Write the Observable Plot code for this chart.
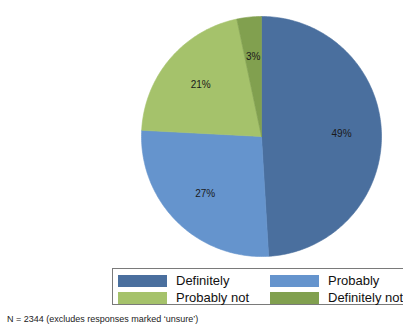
<!DOCTYPE html>
<html>
<head>
<meta charset="utf-8">
<script src="https://cdn.jsdelivr.net/npm/d3@7"></script>
<script src="https://cdn.jsdelivr.net/npm/@observablehq/plot@0.6"></script>
<style>
  html, body { margin: 0; padding: 0; background: #fff; }
  body { width: 403px; height: 326px; position: relative; overflow: hidden; font-family: "Liberation Sans", Arial, sans-serif; }
  #chart { position: absolute; left: 0; top: 0; }
  #legend { position: absolute; left: 112px; top: 268px; width: 295px; height: 37px; border: 1px solid #7a7a7a; box-sizing: border-box; }
  .item { position: absolute; display: flex; align-items: center; font-size: 13px; color: #111; white-space: nowrap; }
  .sw { width: 49px; height: 12px; margin-right: 9px; }
  #caption { position: absolute; left: 7px; top: 314px; font-size: 9px; color: #222; white-space: nowrap; }
</style>
</head>
<body>
<div id="chart"></div>
<div id="legend"></div>
<div id="caption"></div>
<script>
const categories = ["Definitely", "Probably", "Probably not", "Definitely not"];
const shares = [49.1, 26.8, 20.9, 3.3];
const colors = ["#4a6f9e", "#6594cd", "#a5c26b", "#81a04f"];
const caption = "N = 2344 (excludes responses marked ‘unsure’)";

const total = d3.sum(shares);
const pts = [];
const labels = [];
let cum = 0;
categories.forEach((cat, i) => {
  const a0 = cum / total * 2 * Math.PI;
  cum += shares[i];
  const a1 = cum / total * 2 * Math.PI;
  const n = Math.max(2, Math.ceil((a1 - a0) / (Math.PI / 180)));
  pts.push({cat, x: 0, y: 0});
  for (let k = 0; k <= n; k++) {
    const a = a0 + (a1 - a0) * k / n;
    pts.push({cat, x: Math.sin(a), y: Math.cos(a)});
  }
  pts.push({cat, x: 0, y: 0});
  const m = (a0 + a1) / 2;
  labels.push({cat, x: 0.667 * Math.sin(m), y: 0.667 * Math.cos(m), text: Math.round(shares[i]) + "%"});
});

const W = 403, H = 264;
const plot = Plot.plot({
  width: W,
  height: H,
  marginLeft: 141,
  marginRight: 22,
  marginTop: 16,
  marginBottom: 8,
  x: {domain: [-1, 1], axis: null},
  y: {domain: [-1, 1], axis: null},
  color: {domain: categories, range: colors},
  style: {fontFamily: "Liberation Sans, Arial, sans-serif", background: "transparent"},
  marks: [
    Plot.line(pts, {x: "x", y: "y", z: "cat", fill: "cat", stroke: "cat", strokeWidth: 0.6, curve: "linear"}),
    Plot.text(labels, {x: "x", y: "y", text: "text", fontSize: 10, fill: "#1a1a1a"})
  ]
});
document.getElementById("chart").appendChild(plot);

const legend = document.getElementById("legend");
const pos = [[5, 6], [157, 6], [5, 23], [157, 23]];
categories.forEach((cat, i) => {
  const it = document.createElement("div");
  it.className = "item";
  it.style.left = pos[i][0] + "px";
  it.style.top = (pos[i][1] - 2) + "px";
  const sw = document.createElement("div");
  sw.className = "sw";
  sw.style.background = colors[i];
  const t = document.createElement("span");
  t.textContent = cat;
  it.appendChild(sw);
  it.appendChild(t);
  legend.appendChild(it);
});
document.getElementById("caption").textContent = caption;
</script>
</body>
</html>
